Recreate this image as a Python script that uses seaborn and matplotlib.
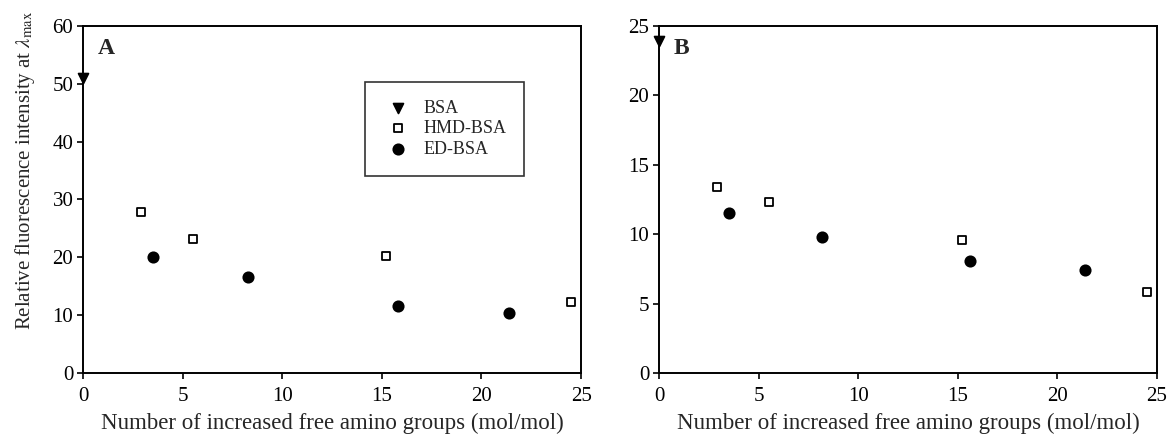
import matplotlib
matplotlib.use("Agg")
import matplotlib.pyplot as plt
import seaborn as sns
import pandas as pd

sns.set_theme(style="ticks")
plt.rcParams["font.family"] = ["Liberation Serif", "DejaVu Serif"]
plt.rcParams["mathtext.fontset"] = "stix"

series_names = ["BSA", "HMD-BSA", "ED-BSA"]

# Panel A
bsa_x_a = [0.0]
bsa_y_a = [51.0]
hmd_x_a = [2.9, 5.5, 15.2, 24.5]
hmd_y_a = [27.8, 23.1, 20.2, 12.2]
ed_x_a = [3.5, 8.3, 15.8, 21.4]
ed_y_a = [20.1, 16.6, 11.6, 10.3]

# Panel B
bsa_x_b = [0.0]
bsa_y_b = [23.9]
hmd_x_b = [2.9, 5.5, 15.2, 24.5]
hmd_y_b = [13.4, 12.3, 9.6, 5.8]
ed_x_b = [3.5, 8.2, 15.6, 21.4]
ed_y_b = [11.5, 9.8, 8.1, 7.4]

x_ticks = [0, 5, 10, 15, 20, 25]
y_ticks_a = [0, 10, 20, 30, 40, 50, 60]
y_ticks_b = [0, 5, 10, 15, 20, 25]


def frame(bx, by, hx, hy, ex, ey):
    rows = []
    for x, y in zip(bx, by):
        rows.append((x, y, series_names[0]))
    for x, y in zip(hx, hy):
        rows.append((x, y, series_names[1]))
    for x, y in zip(ex, ey):
        rows.append((x, y, series_names[2]))
    return pd.DataFrame(rows, columns=["x", "y", "sample"])


df_a = frame(bsa_x_a, bsa_y_a, hmd_x_a, hmd_y_a, ed_x_a, ed_y_a)
df_b = frame(bsa_x_b, bsa_y_b, hmd_x_b, hmd_y_b, ed_x_b, ed_y_b)

markers = {"BSA": "v", "HMD-BSA": "s", "ED-BSA": "o"}
sizes = {"BSA": 50, "HMD-BSA": 38, "ED-BSA": 55}

fig = plt.figure(figsize=(11.68, 4.34), dpi=100)
ax_a = fig.add_axes([0.0711, 0.1406, 0.4264, 0.7995])
ax_b = fig.add_axes([0.5642, 0.1406, 0.4264, 0.7995])


def draw(ax, df, yticks, ymax, letter):
    for name in series_names:
        sub = df[df["sample"] == name]
        face = "white" if name == "HMD-BSA" else "black"
        sns.scatterplot(data=sub, x="x", y="y", marker=markers[name],
                        s=sizes[name], color=face, edgecolor="black",
                        linewidth=1.3, ax=ax, label=name, clip_on=False,
                        zorder=3)
    ax.set_xlim(0, 25)
    ax.set_ylim(0, ymax)
    ax.set_xticks(x_ticks)
    ax.set_yticks(yticks)
    ax.tick_params(axis="both", labelsize=15, direction="out", length=4,
                   width=1.2, colors="black")
    ax.tick_params(axis="x", pad=6)
    ax.tick_params(axis="y", pad=3)
    for sp in ax.spines.values():
        sp.set_visible(True)
        sp.set_linewidth(1.4)
        sp.set_color("black")
    ax.set_xlabel("Number of increased free amino groups (mol/mol)",
                  fontsize=16.5, labelpad=5)
    ax.set_ylabel("")
    ax.text(0.03, 0.965, letter, transform=ax.transAxes, fontsize=17,
            fontweight="bold", va="top", ha="left")


draw(ax_a, df_a, y_ticks_a, 60, "A")
draw(ax_b, df_b, y_ticks_b, 25, "B")

ax_a.set_ylabel(r"Relative fluorescence intensity at $\lambda_{\rm max}$",
                fontsize=15, labelpad=11)
ax_a.yaxis.label.set_y(0.585)

leg = ax_a.legend(loc="upper left", bbox_to_anchor=(0.567, 0.84),
                  frameon=True, fancybox=False, fontsize=13,
                  handletextpad=0.6, borderpad=1.0, labelspacing=0.2,
                  borderaxespad=0, handlelength=1.6)
leg.get_frame().set_edgecolor("black")
leg.get_frame().set_linewidth(1.2)
ax_b.get_legend().remove()

fig.savefig("out.png", dpi=100)
